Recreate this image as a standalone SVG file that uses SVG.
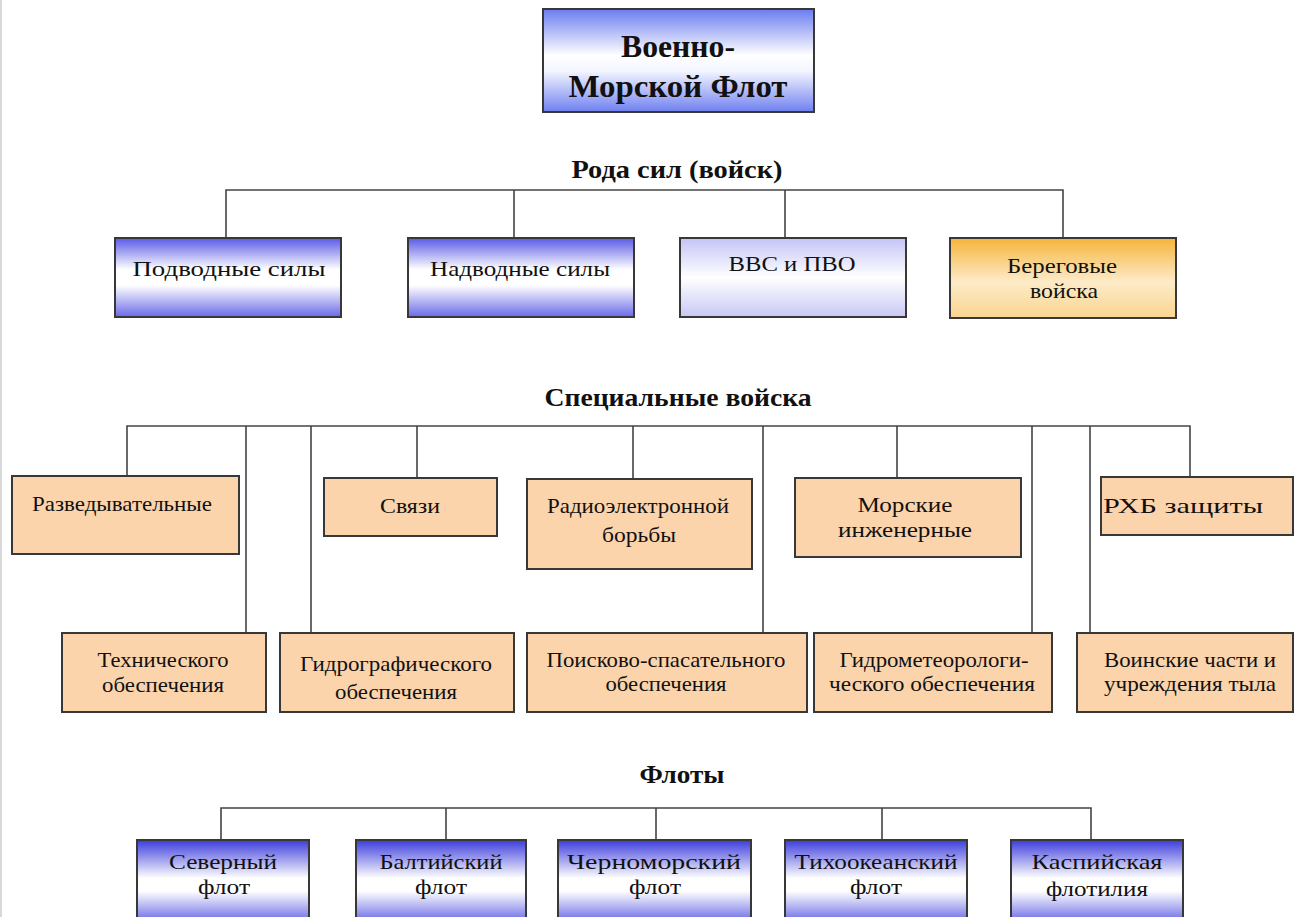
<svg xmlns="http://www.w3.org/2000/svg" width="1295" height="917" viewBox="0 0 1295 917">
<defs>
<linearGradient id="gBlue" x1="0" y1="0" x2="0" y2="1">
<stop offset="0" stop-color="#5a5ae6"/>
<stop offset="0.4" stop-color="#ffffff"/>
<stop offset="0.6" stop-color="#ffffff"/>
<stop offset="1" stop-color="#6a6ae8"/>
</linearGradient>
<linearGradient id="gTop" x1="0" y1="0" x2="0" y2="1">
<stop offset="0" stop-color="#6a7cf0"/>
<stop offset="0.45" stop-color="#ffffff"/>
<stop offset="0.6" stop-color="#f4f6ff"/>
<stop offset="1" stop-color="#6f80f0"/>
</linearGradient>
<linearGradient id="gLav" x1="0" y1="0" x2="0" y2="1">
<stop offset="0" stop-color="#c4c4f6"/>
<stop offset="0.5" stop-color="#ffffff"/>
<stop offset="1" stop-color="#c8c8f4"/>
</linearGradient>
<linearGradient id="gOrange" x1="0" y1="0" x2="0" y2="1">
<stop offset="0" stop-color="#f5b43a"/>
<stop offset="0.55" stop-color="#fdebc8"/>
<stop offset="1" stop-color="#fad58f"/>
</linearGradient>
<linearGradient id="gFleet" x1="0" y1="0" x2="0" y2="1">
<stop offset="0" stop-color="#3c3cdc"/>
<stop offset="0.45" stop-color="#ffffff"/>
<stop offset="0.6" stop-color="#ffffff"/>
<stop offset="1" stop-color="#5a5ae4"/>
</linearGradient>
</defs>
<style>
.box{stroke:#383838;stroke-width:2}
.peach{fill:#fbd4ac}
.t{font-family:"Liberation Serif","Times New Roman",serif;font-size:22px;fill:#111;text-anchor:middle}
.h{font-family:"Liberation Serif","Times New Roman",serif;font-size:26px;font-weight:bold;fill:#111;text-anchor:middle}
.title{font-family:"Liberation Serif","Times New Roman",serif;font-size:32px;font-weight:bold;fill:#111;text-anchor:middle}
.c{stroke:#444;stroke-width:1.6;fill:none}
</style>
<rect width="1295" height="917" fill="#ffffff"/>
<line x1="1" y1="0" x2="1" y2="917" stroke="#d8d8d8" stroke-width="2"/>

<g id="connectors">
<path class="c" d="M226 238 V190 H1063 V238 M514 190 V238 M785 190 V238"/>
<path class="c" d="M127 476 V426 H1190 V477 M246 426 V633 M311 426 V633 M417 426 V478 M633 426 V479 M763 426 V633 M897 426 V478 M1032 426 V633 M1090 426 V633"/>
<path class="c" d="M221 840 V808 H1091 V840 M446 808 V840 M656 808 V840 M882 808 V840"/>
</g>

<g id="root">
<rect class="box" x="543" y="9" width="271" height="103" fill="url(#gTop)" stroke-width="2.5"/>
<text class="title" x="678" y="57" textLength="114" lengthAdjust="spacingAndGlyphs">Военно-</text>
<text class="title" x="678" y="97" textLength="219" lengthAdjust="spacingAndGlyphs">Морской Флот</text>
</g>

<g id="h1"><text class="h" x="677" y="178" textLength="211" lengthAdjust="spacingAndGlyphs">Рода сил (войск)</text></g>
<g id="h2"><text class="h" x="678" y="406" textLength="267" lengthAdjust="spacingAndGlyphs">Специальные войска</text></g>
<g id="h3"><text class="h" x="682" y="783" textLength="85" lengthAdjust="spacingAndGlyphs">Флоты</text></g>

<g id="n-podvodnye">
<rect class="box" x="115" y="238" width="226" height="79" fill="url(#gBlue)"/>
<text class="t" x="229" y="276" textLength="193" lengthAdjust="spacingAndGlyphs">Подводные силы</text>
</g>
<g id="n-nadvodnye">
<rect class="box" x="408" y="238" width="226" height="79" fill="url(#gBlue)"/>
<text class="t" x="520" y="276" textLength="180" lengthAdjust="spacingAndGlyphs">Надводные силы</text>
</g>
<g id="n-vvs">
<rect class="box" x="680" y="238" width="226" height="79" fill="url(#gLav)"/>
<text class="t" x="792" y="271" textLength="127" lengthAdjust="spacingAndGlyphs">ВВС и ПВО</text>
</g>
<g id="n-beregovye">
<rect class="box" x="950" y="238" width="226" height="80" fill="url(#gOrange)"/>
<text class="t" x="1062" y="273" textLength="110" lengthAdjust="spacingAndGlyphs">Береговые</text>
<text class="t" x="1064" y="298" textLength="68" lengthAdjust="spacingAndGlyphs">войска</text>
</g>

<g id="n-razved">
<rect class="box peach" x="12" y="476" width="227" height="78"/>
<text class="t" x="122" y="511" textLength="180" lengthAdjust="spacingAndGlyphs">Разведывательные</text>
</g>
<g id="n-svyazi">
<rect class="box peach" x="324" y="478" width="173" height="58"/>
<text class="t" x="410" y="513" textLength="60" lengthAdjust="spacingAndGlyphs">Связи</text>
</g>
<g id="n-radio">
<rect class="box peach" x="527" y="479" width="225" height="90"/>
<text class="t" x="638" y="513" textLength="182" lengthAdjust="spacingAndGlyphs">Радиоэлектронной</text>
<text class="t" x="639" y="542" textLength="74" lengthAdjust="spacingAndGlyphs">борьбы</text>
</g>
<g id="n-morskie">
<rect class="box peach" x="795" y="478" width="226" height="79"/>
<text class="t" x="905" y="512" textLength="95" lengthAdjust="spacingAndGlyphs">Морские</text>
<text class="t" x="905" y="537" textLength="134" lengthAdjust="spacingAndGlyphs">инженерные</text>
</g>
<g id="n-rhb">
<rect class="box peach" x="1101" y="477" width="192" height="58"/>
<text class="t" x="1183" y="513" textLength="160" lengthAdjust="spacingAndGlyphs">РХБ защиты</text>
</g>

<g id="n-tech">
<rect class="box peach" x="62" y="633" width="204" height="79"/>
<text class="t" x="163" y="667" textLength="131" lengthAdjust="spacingAndGlyphs">Технического</text>
<text class="t" x="163" y="692" textLength="122" lengthAdjust="spacingAndGlyphs">обеспечения</text>
</g>
<g id="n-gidrograf">
<rect class="box peach" x="280" y="633" width="234" height="79"/>
<text class="t" x="396" y="671" textLength="192" lengthAdjust="spacingAndGlyphs">Гидрографического</text>
<text class="t" x="396" y="699" textLength="122" lengthAdjust="spacingAndGlyphs">обеспечения</text>
</g>
<g id="n-poisk">
<rect class="box peach" x="527" y="633" width="280" height="79"/>
<text class="t" x="666" y="667" textLength="239" lengthAdjust="spacingAndGlyphs">Поисково-спасательного</text>
<text class="t" x="666" y="691" textLength="121" lengthAdjust="spacingAndGlyphs">обеспечения</text>
</g>
<g id="n-gidromet">
<rect class="box peach" x="814" y="633" width="238" height="79"/>
<text class="t" x="934" y="667" textLength="189" lengthAdjust="spacingAndGlyphs">Гидрометеорологи-</text>
<text class="t" x="932" y="691" textLength="206" lengthAdjust="spacingAndGlyphs">ческого обеспечения</text>
</g>
<g id="n-voinskie">
<rect class="box peach" x="1077" y="633" width="216" height="79"/>
<text class="t" x="1190" y="667" textLength="172" lengthAdjust="spacingAndGlyphs">Воинские части и</text>
<text class="t" x="1190" y="691" textLength="172" lengthAdjust="spacingAndGlyphs">учреждения тыла</text>
</g>

<g id="n-severny">
<rect class="box" x="137" y="840" width="172" height="85" fill="url(#gFleet)"/>
<text class="t" x="223" y="869" textLength="108" lengthAdjust="spacingAndGlyphs">Северный</text>
<text class="t" x="224" y="894" textLength="52" lengthAdjust="spacingAndGlyphs">флот</text>
</g>
<g id="n-baltic">
<rect class="box" x="356" y="840" width="170" height="85" fill="url(#gFleet)"/>
<text class="t" x="441" y="869" textLength="123" lengthAdjust="spacingAndGlyphs">Балтийский</text>
<text class="t" x="441" y="894" textLength="52" lengthAdjust="spacingAndGlyphs">флот</text>
</g>
<g id="n-chernomor">
<rect class="box" x="558" y="840" width="193" height="85" fill="url(#gFleet)"/>
<text class="t" x="654" y="869" textLength="174" lengthAdjust="spacingAndGlyphs">Черноморский</text>
<text class="t" x="655" y="894" textLength="52" lengthAdjust="spacingAndGlyphs">флот</text>
</g>
<g id="n-tihookean">
<rect class="box" x="785" y="840" width="182" height="85" fill="url(#gFleet)"/>
<text class="t" x="876" y="869" textLength="163" lengthAdjust="spacingAndGlyphs">Тихоокеанский</text>
<text class="t" x="876" y="894" textLength="52" lengthAdjust="spacingAndGlyphs">флот</text>
</g>
<g id="n-kaspiy">
<rect class="box" x="1011" y="840" width="172" height="85" fill="url(#gFleet)"/>
<text class="t" x="1097" y="869" textLength="131" lengthAdjust="spacingAndGlyphs">Каспийская</text>
<text class="t" x="1097" y="896" textLength="102" lengthAdjust="spacingAndGlyphs">флотилия</text>
</g>
</svg>
